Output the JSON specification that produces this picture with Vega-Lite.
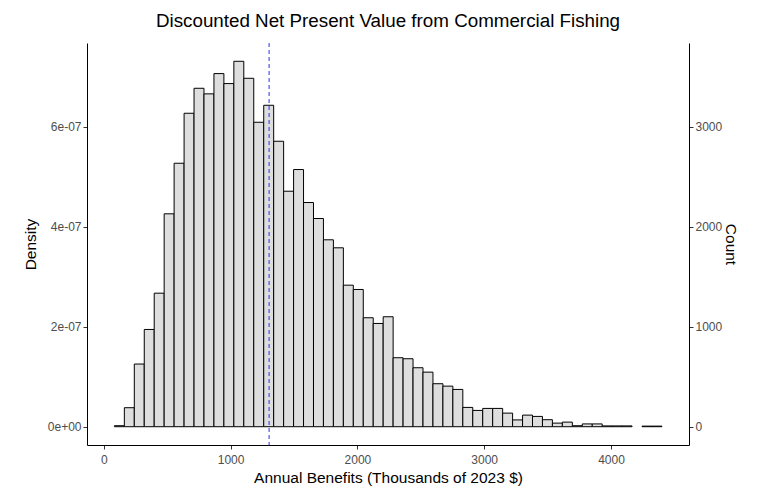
{
  "$schema": "https://vega.github.io/schema/vega-lite/v6.json",
  "width": 602,
  "height": 402,
  "autosize": "none",
  "padding": {"left": 87, "top": 43, "right": 72, "bottom": 48},
  "background": "white",
  "title": {
    "text": "Discounted Net Present Value from Commercial Fishing",
    "font": "Liberation Sans",
    "fontSize": 18.8,
    "fontWeight": "normal",
    "color": "black",
    "anchor": "middle",
    "offset": 12
  },
  "datasets": {
    "bins": [
      {"start": 84, "end": 162.5, "count": 10},
      {"start": 162.5, "end": 241, "count": 190},
      {"start": 241, "end": 319.5, "count": 627},
      {"start": 319.5, "end": 398, "count": 973},
      {"start": 398, "end": 476.5, "count": 1336},
      {"start": 476.5, "end": 555, "count": 2130},
      {"start": 555, "end": 633.5, "count": 2636},
      {"start": 633.5, "end": 712, "count": 3136},
      {"start": 712, "end": 790.5, "count": 3386},
      {"start": 790.5, "end": 869, "count": 3330},
      {"start": 869, "end": 947.5, "count": 3533},
      {"start": 947.5, "end": 1026, "count": 3433},
      {"start": 1026, "end": 1104.5, "count": 3656},
      {"start": 1104.5, "end": 1183, "count": 3486},
      {"start": 1183, "end": 1261.5, "count": 3046},
      {"start": 1261.5, "end": 1340, "count": 3216},
      {"start": 1340, "end": 1418.5, "count": 2856},
      {"start": 1418.5, "end": 1497, "count": 2356},
      {"start": 1497, "end": 1575.5, "count": 2573},
      {"start": 1575.5, "end": 1654, "count": 2243},
      {"start": 1654, "end": 1732.5, "count": 2083},
      {"start": 1732.5, "end": 1811, "count": 1870},
      {"start": 1811, "end": 1889.5, "count": 1790},
      {"start": 1889.5, "end": 1968, "count": 1416},
      {"start": 1968, "end": 2046.5, "count": 1373},
      {"start": 2046.5, "end": 2125, "count": 1090},
      {"start": 2125, "end": 2203.5, "count": 1033},
      {"start": 2203.5, "end": 2282, "count": 1100},
      {"start": 2282, "end": 2360.5, "count": 690},
      {"start": 2360.5, "end": 2439, "count": 680},
      {"start": 2439, "end": 2517.5, "count": 590},
      {"start": 2517.5, "end": 2596, "count": 546},
      {"start": 2596, "end": 2674.5, "count": 430},
      {"start": 2674.5, "end": 2753, "count": 406},
      {"start": 2753, "end": 2831.5, "count": 373},
      {"start": 2831.5, "end": 2910, "count": 193},
      {"start": 2910, "end": 2988.5, "count": 163},
      {"start": 2988.5, "end": 3067, "count": 183},
      {"start": 3067, "end": 3145.5, "count": 183},
      {"start": 3145.5, "end": 3224, "count": 136},
      {"start": 3224, "end": 3302.5, "count": 68},
      {"start": 3302.5, "end": 3381, "count": 116},
      {"start": 3381, "end": 3459.5, "count": 103},
      {"start": 3459.5, "end": 3538, "count": 70},
      {"start": 3538, "end": 3616.5, "count": 36},
      {"start": 3616.5, "end": 3695, "count": 46},
      {"start": 3695, "end": 3773.5, "count": 10},
      {"start": 3773.5, "end": 3852, "count": 28},
      {"start": 3852, "end": 3930.5, "count": 28},
      {"start": 3930.5, "end": 4009, "count": 8},
      {"start": 4009, "end": 4087.5, "count": 8},
      {"start": 4087.5, "end": 4166, "count": 8},
      {"start": 4244.5, "end": 4323, "count": 6},
      {"start": 4323, "end": 4401.5, "count": 6}
    ],
    "meanline": [{"value": 1304}]
  },
  "layer": [
    {
      "data": {"name": "bins"},
      "mark": {"type": "bar", "fill": "#DEDEDE", "stroke": "black", "strokeWidth": 1},
      "encoding": {
        "x": {
          "field": "start", "type": "quantitative",
          "scale": {"domain": [-132, 4615], "nice": false, "zero": false},
          "axis": {"title": "Annual Benefits (Thousands of 2023 $)", "values": [0, 1000, 2000, 3000, 4000], "format": "d", "grid": false, "labelPadding": 5, "titlePadding": 5}
        },
        "x2": {"field": "end"},
        "y": {
          "field": "count", "type": "quantitative",
          "scale": {"domain": [-183, 3839], "nice": false, "zero": false},
          "axis": {"title": "Count", "orient": "right", "values": [0, 1000, 2000, 3000], "format": "d", "grid": false, "titlePadding": 1}
        },
        "y2": {"datum": 0}
      }
    },
    {
      "data": {"name": "bins"},
      "mark": {"type": "bar", "fillOpacity": 0, "strokeOpacity": 0},
      "encoding": {
        "x": {"field": "start", "type": "quantitative"},
        "x2": {"field": "end"},
        "y": {
          "field": "count", "type": "quantitative",
          "axis": {
            "title": "Density", "orient": "left", "values": [0, 1000, 2000, 3000], "grid": false,
            "titlePadding": 9,
            "labelExpr": "datum.value == 0 ? '0e+00' : (datum.value / 500) + 'e-07'"
          }
        },
        "y2": {"datum": 0}
      }
    },
    {
      "data": {"name": "meanline"},
      "mark": {"type": "rule", "color": "#2f2fe8", "strokeDash": [4, 3], "strokeWidth": 1},
      "encoding": {
        "x": {"field": "value", "type": "quantitative"}
      }
    }
  ],
  "resolve": {"axis": {"y": "independent"}},
  "config": {
    "view": {"stroke": null},
    "font": "Liberation Sans",
    "axis": {
      "domainColor": "black",
      "domainWidth": 1,
      "tickColor": "#333333",
      "tickSize": 4,
      "labelColor": "#4D4D4D",
      "labelFontSize": 12,
      "labelFont": "Liberation Sans",
      "labelPadding": 2,
      "titleFont": "Liberation Sans",
      "titleFontSize": 15.5,
      "titleFontWeight": "normal",
      "titleColor": "black"
    }
  }
}
